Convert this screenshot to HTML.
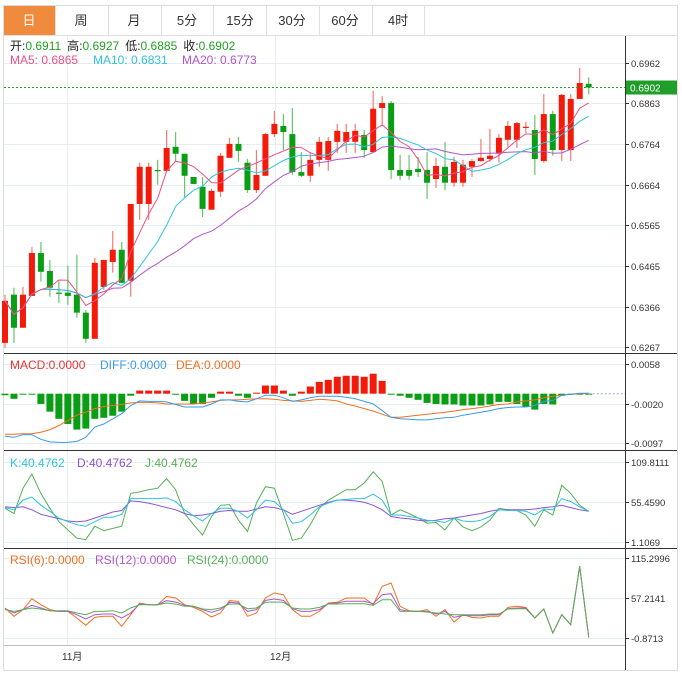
<!DOCTYPE html>
<html><head><meta charset="utf-8"><style>
html,body{margin:0;padding:0;background:#fff;}
svg{display:block;font-family:"Liberation Sans","Noto Sans CJK SC",sans-serif;}
</style></head><body>
<svg id="chart" width="682" height="679" viewBox="0 0 682 679" xmlns="http://www.w3.org/2000/svg">
<rect x="3.5" y="5.5" width="674" height="665" fill="#fff" stroke="#dcdcdc"/>
<g font-size="13" fill="#333" text-anchor="middle">
<rect x="4" y="6" width="51" height="29" fill="#f08a3c"/>
<text x="29" y="25" fill="#fff">日</text>
<text x="81" y="25">周</text>
<text x="134" y="25">月</text>
<text x="187" y="25">5分</text>
<text x="240" y="25">15分</text>
<text x="292" y="25">30分</text>
<text x="345" y="25">60分</text>
<text x="398" y="25">4时</text>
<g stroke="#e0e0e0"><line x1="55.5" y1="6" x2="55.5" y2="35"/><line x1="108.5" y1="6" x2="108.5" y2="35"/><line x1="161.5" y1="6" x2="161.5" y2="35"/><line x1="213.5" y1="6" x2="213.5" y2="35"/><line x1="266.5" y1="6" x2="266.5" y2="35"/><line x1="319.5" y1="6" x2="319.5" y2="35"/><line x1="372.5" y1="6" x2="372.5" y2="35"/><line x1="424.5" y1="6" x2="424.5" y2="35"/><line x1="4" y1="35.5" x2="677" y2="35.5"/></g>
</g>
<g id="grid"></g>
<g id="marks"></g>
<g id="axes"></g>
<g font-size="12">
<text x="10" y="50"><tspan fill="#222">开:</tspan><tspan fill="#22a022">0.6911</tspan><tspan fill="#222" dx="6">高:</tspan><tspan fill="#22a022">0.6927</tspan><tspan fill="#222" dx="6">低:</tspan><tspan fill="#22a022">0.6885</tspan><tspan fill="#222" dx="6">收:</tspan><tspan fill="#22a022">0.6902</tspan></text>
<text x="10" y="64" fill="#ee4f86">MA5: 0.6865</text>
<text x="93" y="64" fill="#2fc3de">MA10: 0.6831</text>
<text x="182" y="64" fill="#b055c8">MA20: 0.6773</text>
<text x="10" y="369" fill="#f03030">MACD:0.0000</text>
<text x="100" y="369" fill="#3a9ae8">DIFF:0.0000</text>
<text x="176" y="369" fill="#f07020">DEA:0.0000</text>
<text x="10" y="467" fill="#2fc3de">K:40.4762</text>
<text x="77" y="467" fill="#8a55d0">D:40.4762</text>
<text x="145" y="467" fill="#55b055">J:40.4762</text>
<text x="10" y="564" fill="#f07020">RSI(6):0.0000</text>
<text x="95" y="564" fill="#b055c8">RSI(12):0.0000</text>
<text x="187" y="564" fill="#55b055">RSI(24):0.0000</text>
<text x="62" y="660" fill="#333" font-size="10">11月</text>
<text x="270" y="660" fill="#333" font-size="10">12月</text>
</g>
</svg>
<script>
const opens=[.6277,.6395,.6314,.6392,.6497,.6453,.6400,.6400,.6395,.6351,.6287,.6414,.6475,.6505,.6429,.6617,.6617,.6700,.6698,.6757,.6740,.6683,.6659,.6603,.6647,.6730,.6764,.6718,.6651,.6686,.6788,.6808,.6788,.6695,.6686,.6725,.6725,.6769,.6769,.6769,.6786,.6744,.6852,.6864,.6700,.6700,.6703,.6700,.6678,.6708,.6669,.6669,.6708,.6722,.6727,.6740,.6774,.6774,.6805,.6798,.6722,.6837,.6749,.6749,.6874,.6911];
const highs=[.6395,.6412,.6414,.6512,.6524,.6480,.6431,.6466,.6493,.6358,.6485,.6480,.6551,.6524,.6617,.6718,.6718,.6725,.6798,.6793,.6740,.6683,.6683,.6654,.6742,.6779,.6781,.6727,.6749,.6791,.6845,.6837,.6852,.6744,.6744,.6781,.6781,.6813,.6813,.6813,.6798,.6894,.6881,.6869,.6737,.6737,.6732,.6744,.6730,.6769,.6732,.6725,.6727,.6776,.6801,.6788,.6820,.6818,.6818,.6835,.6886,.6845,.6886,.6886,.6950,.6927];
const lows=[.6265,.6277,.6314,.6392,.6427,.6390,.6375,.6370,.6339,.6277,.6287,.6407,.6449,.6424,.6390,.6578,.6578,.6664,.6698,.6720,.6634,.6666,.6585,.6603,.6634,.6730,.6720,.6644,.6644,.6686,.6781,.6749,.6688,.6683,.6671,.6708,.6698,.6742,.6742,.6742,.6730,.6744,.6810,.6678,.6676,.6676,.6683,.6629,.6656,.6651,.6659,.6659,.6683,.6720,.6720,.6718,.6757,.6754,.6791,.6688,.6718,.6735,.6722,.6722,.6874,.6885];
const closes=[.6380,.6314,.6395,.6497,.6451,.6412,.6400,.6392,.6351,.6287,.6473,.6480,.6505,.6424,.6617,.6708,.6708,.6698,.6754,.6740,.6686,.6666,.6605,.6649,.6735,.6764,.6747,.6651,.6688,.6788,.6813,.6793,.6695,.6686,.6725,.6769,.6771,.6796,.6793,.6796,.6749,.6850,.6864,.6700,.6686,.6686,.6695,.6669,.6710,.6669,.6720,.6713,.6722,.6730,.6735,.6779,.6808,.6815,.6806,.6727,.6837,.6749,.6884,.6874,.6913,.6902];
const lastPrice=0.6902;
const priceTicks=[0.6962,0.6863,0.6764,0.6664,0.6565,0.6465,0.6366,0.6267];
const macdHist=[-3,-10,0,0,-20,-35,-49,-59,-70,-68,-49,-47,-43,-35,-4,6,6,6,6,-2,-14,-20,-20,-8,4,4,-4,-8,2,16,16,6,-4,4,14,23,27,33,35,35,33,39,25,0,-4,-8,-12,-18,-20,-21,-21,-23,-23,-23,-21,-16,-16,-20,-25,-31,-20,-21,-4,-2,0,0];
const diffVals=[-83,-85,-80,-80,-89,-94,-95,-95,-93,-85,-65,-59,-49,-39,-23,-14,-15,-15,-16,-21,-26,-26,-26,-20,-12,-12,-15,-16,-10,-3,-3,-8,-15,-12,-8,-5,-5,-5,-7,-10,-15,-20,-33,-46,-49,-50,-51,-51,-49,-47,-46,-42,-39,-36,-33,-29,-27,-26,-26,-23,-15,-13,-3,-1,1,1];
const deaVals=[-79,-79,-78,-78,-75,-70,-62,-52,-42,-36,-29,-25,-23,-21,-18,-17,-17,-18,-20,-20,-20,-20,-18,-16,-13,-12,-12,-11,-10,-10,-11,-13,-14,-15,-13,-11,-12,-14,-20,-24,-29,-34,-40,-46,-46,-44,-42,-40,-38,-36,-34,-31,-29,-27,-24,-21,-20,-16,-14,-12,-8,-5,-3,-1,0,1];
const macdTicks=[58,-20,-97];
const kVals=[48,45,58,62,51,43,34,29,25,23,29,35,35,39,60,60,60,60,61,56,45,37,30,40,47,47,43,34,45,58,56,45,27,29,38,49,54,58,59,60,60,66,58,38,38,36,34,31,30,28,34,30,29,31,36,45,44,44,43,38,46,45,60,56,49,43];
const dVals=[49,48,49,45,39,36,33,30,29,30,34,38,42,44,57,56,54,51,48,45,40,37,38,40,43,44,43,43,46,49,48,45,39,43,47,51,55,58,58,57,55,51,45,36,34,33,31,30,31,33,34,36,38,40,43,45,45,45,45,46,48,49,51,48,45,43];
const jVals=[47,40,74,93,67,47,29,18,7,5,23,17,20,23,67,69,72,74,87,72,40,25,11,36,51,52,31,16,54,76,74,40,4,7,25,47,58,65,72,72,81,96,83,38,45,40,34,27,28,18,34,22,17,22,31,47,45,44,38,23,45,38,78,67,51,43];
const kdjTicks=[109.8111,55.4590,1.1069];
const rsi6=[42.7,30.6,40.3,56.2,47.5,40.3,37.8,37.8,28.2,17.5,29.1,30.6,30.6,16.1,33.0,49.9,47.5,47.5,59.6,57.2,47.5,43.6,37.8,29.6,35.4,53.3,52.4,30.6,35.4,57.2,64.5,62.0,40.3,30.6,30.6,37.8,49.9,50.9,57.2,57.2,57.2,47.5,74.1,79.0,45.1,38.8,37.8,40.3,30.6,40.3,22.4,33.0,29.1,28.2,30.6,30.6,43.6,45.1,43.6,28.2,41.2,6.4,33.0,18.5,103.2,0.1];
const rsi12=[41.7,35.4,40.3,46.6,42.7,38.8,37.8,37.8,33.0,26.7,33.0,34.0,34.0,28.2,35.4,48.5,47.5,47.5,53.3,51.4,46.6,45.1,40.3,36.4,40.3,50.9,49.9,37.8,40.3,53.8,55.8,53.8,41.7,37.8,37.8,40.3,49.0,49.9,52.4,52.4,52.4,49.0,62.0,63.5,40.3,37.8,37.8,37.8,34.0,37.8,29.1,32.0,31.5,31.5,33.0,33.0,41.7,42.7,42.7,28.2,41.2,6.4,33.0,18.5,103.2,0.1];
const rsi24=[40.3,37.8,40.3,42.7,41.2,38.8,38.8,38.8,35.4,33.0,37.8,37.8,38.8,35.4,42.7,47.5,47.5,47.5,49.9,48.5,45.1,45.1,41.2,40.3,42.7,48.5,48.5,41.7,42.7,50.9,51.4,50.9,42.7,41.2,41.2,43.6,48.5,48.5,49.0,49.0,49.0,46.6,54.8,54.8,37.8,37.8,37.8,36.9,35.4,34.0,33.0,33.0,33.0,33.0,34.0,34.0,41.2,41.7,41.7,28.2,41.2,6.4,33.0,18.5,103.2,0.1];
const rsiTicks=[115.2996,57.2141,-0.8713];

const NS='http://www.w3.org/2000/svg';
const grid=document.getElementById('grid'),marks=document.getElementById('marks'),axes=document.getElementById('axes');
const AX=625;
function xAt(i){return 5+i*8.98;}
function yPrice(p){return 63+(0.6962-p)*4086;}
function yMacd(v){return 393.7-v*0.5128;}
function yKdj(v){return 502-(v-55.459)*0.745;}
function yRsi(v){return 598-(v-57.2141)*0.6886;}
function mk(tag,attrs,parent){const e=document.createElementNS(NS,tag);for(const k in attrs)e.setAttribute(k,attrs[k]);parent.appendChild(e);return e;}

[353.5,450.5,548.5].forEach(function(y){
  const l=mk('line',{x1:4,y1:y,x2:677,y2:y,stroke:'#333','stroke-width':1},axes);
  
  
});
const bl=mk('line',{x1:4,y1:645.5,x2:AX,y2:645.5,stroke:'#bbb'},axes);


const al=mk('line',{x1:AX+0.5,y1:36,x2:AX+0.5,y2:670,stroke:'#333'},axes);


[67.5,275.5].forEach(function(x){
  const v=mk('line',{x1:x,y1:36,x2:x,y2:645,stroke:'#e8eff3'},grid);
  
  
});
function ticks(vals,yf,fmt,name){
  vals.forEach(function(v){
    const y=Math.round(yf(v))+0.5;
    const g=mk('line',{x1:4,y1:y,x2:AX,y2:y,stroke:'#e6eef3'},grid);
    
    
    const t=mk('line',{x1:AX,y1:y,x2:AX+4,y2:y,stroke:'#333'},axes);
    
    
    const tx=mk('text',{x:AX+6,y:y+3.5,'font-size':9.5,fill:'#333'},axes);
    
    
    tx.textContent=fmt(v);
  });
}
ticks(priceTicks,yPrice,function(v){return v.toFixed(4);},'price');
ticks(macdTicks,yMacd,function(v){return (v/10000).toFixed(4);},'macd');
ticks(kdjTicks,yKdj,function(v){return v.toFixed(4);},'kdj');
ticks(rsiTicks,yRsi,function(v){return v.toFixed(4);},'rsi');

for(let i=0;i<closes.length;i++){
  const up=closes[i]>opens[i];
  const col=up?'#f41a0a':'#0a9e14';
  const x=xAt(i);
  const w=mk('line',{x1:x,y1:yPrice(highs[i]),x2:x,y2:yPrice(lows[i]),stroke:up?'#f47a70':'#66c46a','stroke-width':1.2},marks);
  
  
  const yt=yPrice(Math.max(opens[i],closes[i])),yb=yPrice(Math.min(opens[i],closes[i]));
  const b=mk('rect',{x:x-3,y:yt,width:6,height:Math.max(1.2,yb-yt),fill:col},marks);
  
  
}
function ma(n){const out=[];for(let i=0;i<closes.length;i++){let s=0,c=0;for(let j=Math.max(0,i-n+1);j<=i;j++){s+=closes[j];c++;}out.push(s/c);}return out;}
function line(vals,yf,color,name,wd){
  const d=vals.map(function(v,i){return (i?'L':'M')+xAt(i).toFixed(1)+' '+yf(v).toFixed(1);}).join('');
  const p=mk('path',{d:d,fill:'none',stroke:color,'stroke-width':wd||1},marks);
  
  
}
line(ma(20),yPrice,'#b055c8','ma20-line');
line(ma(10),yPrice,'#2fc3de','ma10-line');
line(ma(5),yPrice,'#ee4f86','ma5-line');

const ly=yPrice(lastPrice);
const pl=mk('line',{x1:4,y1:ly,x2:AX,y2:ly,stroke:'#22a022','stroke-dasharray':'2,2'},marks);


const pb=mk('rect',{x:AX+1,y:ly-7,width:51,height:14,fill:'#1f9e2a'},marks);


const pt=mk('text',{x:AX+5,y:ly+4,'font-size':10,fill:'#fff'},marks);


pt.textContent=lastPrice.toFixed(4);

for(let i=0;i<macdHist.length;i++){
  const v=macdHist[i],y0=yMacd(0),y1=yMacd(v);
  const r=mk('rect',{x:xAt(i)-3.5,y:Math.min(y0,y1),width:7,height:Math.max(1,Math.abs(y1-y0)),fill:v>0?'#f41a0a':'#0a9e14'},marks);
  
  
}
line(deaVals,yMacd,'#f07020','dea-line');
line(diffVals,yMacd,'#3a9ae8','diff-line');
const zl=mk('line',{x1:xAt(macdHist.length-1),y1:yMacd(0),x2:AX,y2:yMacd(0),stroke:'#9ad',"stroke-dasharray":'2,2'},marks);



line(jVals,yKdj,'#55b055','j-line');
line(dVals,yKdj,'#8a55d0','d-line');
line(kVals,yKdj,'#2fc3de','k-line');
line(rsi6,yRsi,'#f07020','rsi6-line');
line(rsi12,yRsi,'#b055c8','rsi12-line');
line(rsi24,yRsi,'#55b055','rsi24-line');
</script>
</body></html>
